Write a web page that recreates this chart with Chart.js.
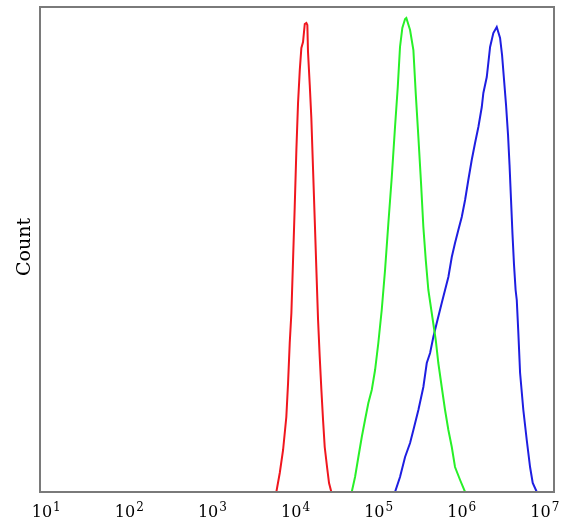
<!DOCTYPE html>
<html>
<head>
<meta charset="utf-8">
<title>Histogram overlay</title>
<script src="https://cdn.jsdelivr.net/npm/chart.js@4.4.1/dist/chart.umd.min.js"></script>
<style>
  html, body { margin: 0; padding: 0; background: #fff; }
  #wrap { width: 561px; height: 525px; }
</style>
</head>
<body>
<div id="wrap"><canvas id="histo"></canvas></div>
<script>
// Axis: decades of fluorescence, shown as 10^k
const tickExponents = [1, 2, 3, 4, 5, 6, 7];
const axisMin = 0.925;
const axisMax = 7.11;
const countMax = 485;

// Red population (log10 intensity, count)
const redLog = [3.769, 3.810, 3.850, 3.889, 3.910, 3.930, 3.950, 3.970, 3.990, 4.010,
  4.030, 4.051, 4.070, 4.090, 4.111, 4.130, 4.142, 4.150, 4.171, 4.190, 4.211,
  4.231, 4.250, 4.271, 4.291, 4.311, 4.331, 4.351, 4.379, 4.403, 4.431];
const redCount = [0, 19, 42, 75, 109, 149, 179, 232, 285, 342,
  389, 422, 444, 450, 468, 469, 467, 440, 407, 374, 322,
  272, 224, 172, 135, 102, 72, 45, 25, 9, 0];

// Green population
const greenLog = [4.676, 4.716, 4.756, 4.797, 4.836, 4.876, 4.917, 4.957, 4.996, 5.037,
  5.077, 5.117, 5.158, 5.197, 5.230, 5.257, 5.285, 5.318, 5.333, 5.378, 5.418,
  5.446, 5.478, 5.510, 5.538, 5.567, 5.598, 5.646, 5.687, 5.718, 5.759, 5.799,
  5.839, 5.880, 5.919, 5.980, 6.040];
const greenCount = [0, 15, 35, 55, 72, 89, 102, 122, 149, 182,
  222, 269, 315, 365, 405, 445, 464, 473, 474, 462, 442,
  399, 355, 309, 265, 232, 202, 175, 152, 129, 105, 82,
  62, 45, 25, 12, 0];

// Blue population
const blueLog = [5.197, 5.257, 5.318, 5.378, 5.418, 5.478, 5.538, 5.579, 5.619, 5.658,
  5.699, 5.759, 5.799, 5.839, 5.880, 5.919, 5.959, 6.000, 6.040, 6.079, 6.120,
  6.160, 6.200, 6.241, 6.260, 6.301, 6.341, 6.380, 6.421, 6.461, 6.485, 6.509,
  6.533, 6.557, 6.575, 6.593, 6.611, 6.629, 6.648, 6.662, 6.681, 6.702, 6.741,
  6.782, 6.822, 6.854, 6.903];
const blueCount = [0, 15, 35, 49, 62, 82, 105, 129, 139, 155,
  169, 189, 202, 215, 235, 249, 262, 275, 292, 312, 332,
  349, 365, 385, 399, 415, 445, 459, 465, 454, 437, 412,
  387, 357, 327, 292, 257, 227, 202, 192, 159, 119, 82,
  52, 25, 9, 0];

const serif = "'DejaVu Serif', 'Liberation Serif', serif";

function toPoints(xs, ys) {
  return xs.map((x, i) => ({ x: x, y: ys[i] }));
}

// Draws the grey box around the plot area
const frameBox = {
  id: 'frameBox',
  afterDatasetsDraw(chart) {
    const { ctx, chartArea } = chart;
    ctx.save();
    ctx.strokeStyle = '#7a7a7a';
    ctx.lineWidth = 2;
    ctx.strokeRect(chartArea.left, chartArea.top,
      chartArea.right - chartArea.left, chartArea.bottom - chartArea.top);
    ctx.restore();
  }
};

// Tick labels as 10 with a raised exponent, plus the rotated "Count" title
const powerLabels = {
  id: 'powerLabels',
  afterDraw(chart) {
    const ctx = chart.ctx;
    const xScale = chart.scales.x;
    const base = chart.chartArea.bottom + 25;
    ctx.save();
    ctx.fillStyle = '#000';
    ctx.textBaseline = 'alphabetic';
    ctx.textAlign = 'left';
    xScale.ticks.forEach(tick => {
      const px = xScale.getPixelForValue(tick.value);
      const exp = String(tick.value);
      ctx.font = '16px ' + serif;
      const wBase = ctx.measureText('10').width;
      ctx.font = '12px ' + serif;
      const wExp = ctx.measureText(exp).width;
      const start = px - (wBase + wExp + 1) / 2;
      ctx.font = '16px ' + serif;
      ctx.fillText('10', start, base);
      ctx.font = '12px ' + serif;
      ctx.fillText(exp, start + wBase + 1, base - 6);
    });

    ctx.translate(30, 247);
    ctx.rotate(-Math.PI / 2);
    ctx.font = '19px ' + serif;
    ctx.textAlign = 'center';
    ctx.fillText('Count', 0, 0);
    ctx.restore();
  }
};

function lineSet(points, color) {
  return {
    data: points,
    borderColor: color,
    borderWidth: 2,
    pointRadius: 0,
    tension: 0,
    fill: false
  };
}

new Chart(document.getElementById('histo'), {
  type: 'line',
  data: {
    datasets: [
      lineSet(toPoints(redLog, redCount), 'rgb(240, 22, 30)'),
      lineSet(toPoints(greenLog, greenCount), 'rgb(40, 240, 40)'),
      lineSet(toPoints(blueLog, blueCount), 'rgb(30, 30, 225)')
    ]
  },
  options: {
    responsive: true,
    maintainAspectRatio: false,
    animation: false,
    layout: { padding: { left: 40, right: 7, top: 7, bottom: 33 } },
    plugins: {
      legend: { display: false },
      tooltip: { enabled: false }
    },
    scales: {
      x: {
        type: 'linear',
        min: axisMin,
        max: axisMax,
        afterBuildTicks: scale => {
          scale.ticks = tickExponents.map(v => ({ value: v }));
        },
        grid: { display: false, drawTicks: false },
        border: { display: false },
        ticks: { display: false }
      },
      y: {
        display: false,
        min: 0,
        max: countMax
      }
    }
  },
  plugins: [frameBox, powerLabels]
});
</script>
</body>
</html>
